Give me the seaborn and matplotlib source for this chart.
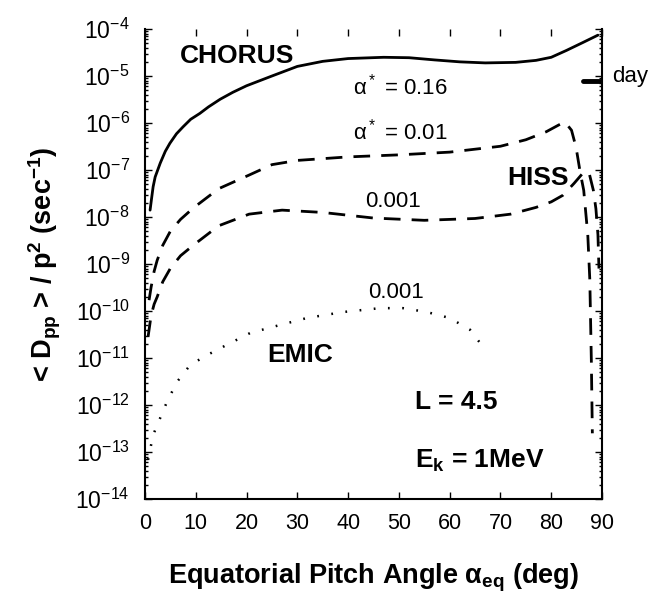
import numpy as np
import pandas as pd
import matplotlib
matplotlib.use("Agg")
import matplotlib.pyplot as plt
import seaborn as sns
from matplotlib.ticker import LogLocator, FixedLocator, NullFormatter

# ---------------- data ----------------
chorus_x = [1.0, 1.3, 1.6, 2.0, 3.0, 4.0, 4.9, 6.2, 7.5, 9.0, 10.8, 12.5, 14.8, 17.3, 20, 25,
            30, 35, 40, 47, 52, 57, 62, 67, 73, 77, 80, 83, 86.3, 89.2]
chorus_y = [1.4e-8, 2.5e-8, 4.4e-8, 7.1e-8, 1.4e-7, 2.5e-7, 3.7e-7, 5.9e-7, 8.3e-7, 1.2e-6,
            1.6e-6, 2.2e-6, 3.2e-6, 4.5e-6, 6.2e-6, 1.0e-5, 1.6e-5, 2.05e-5, 2.35e-5, 2.5e-5,
            2.45e-5, 2.2e-5, 2.0e-5, 1.9e-5, 1.95e-5, 2.15e-5, 2.5e-5, 3.5e-5, 5.2e-5, 7.4e-5]

hiss1_x = [0.8, 1.2, 1.8, 2.4, 3.5, 5, 7, 9.5, 14.5, 20.5, 25, 30, 40, 50, 60, 70, 75, 79,
           81.5, 82.7, 84.0, 84.9, 85.7, 86.4, 87.2, 87.6, 87.9, 88.1]
hiss1_y = [1.7e-10, 3.2e-10, 7e-10, 1.2e-9, 2.5e-9, 5e-9, 8.9e-9, 1.55e-8, 4e-8, 7.8e-8,
           1.3e-7, 1.6e-7, 1.9e-7, 2.1e-7, 2.4e-7, 3.2e-7, 4.4e-7, 6.5e-7, 9.1e-7, 1.05e-6,
           7e-7, 3e-7, 9e-8, 3.7e-8, 4.2e-9, 4.6e-10, 9e-12, 2.5e-13]

hiss2_x = [0.6, 1.2, 1.8, 2.4, 3.5, 5, 7, 9.5, 14.5, 20.5, 27, 35, 45, 55, 65, 72, 77, 80,
           82.3, 84.5, 86.2, 87.4, 88.3, 88.8, 89.2, 89.4]
hiss2_y = [2.8e-11, 8e-11, 1.4e-10, 2e-10, 4.2e-10, 8.1e-10, 1.5e-9, 2.5e-9, 6.5e-9, 1.15e-8,
           1.4e-8, 1.25e-8, 9.5e-9, 8.5e-9, 9.3e-9, 1.15e-8, 1.6e-8, 2.1e-8, 2.9e-8, 5.2e-8,
           8.5e-8, 9.2e-8, 3.7e-8, 1.5e-8, 4.2e-9, 8e-10]

emic_x = [0.6, 1.6, 2.6, 4.3, 6.3, 8.9, 12.2, 16.1, 20.7, 25.2, 31.9, 39, 46.3, 50.8, 55.5,
          60, 64, 67]
emic_y = [6.8e-14, 2.3e-13, 4.2e-13, 1.15e-12, 3.1e-12, 7.1e-12, 1.15e-11, 1.9e-11, 3.4e-11,
          4.6e-11, 7.1e-11, 9.5e-11, 1.15e-10, 1.15e-10, 9.5e-11, 7.1e-11, 4e-11, 1.5e-11]

day_x = [86.3, 89.6]
day_y = [7.8e-6, 7.8e-6]

x_ticks = [0, 10, 20, 30, 40, 50, 60, 70, 80, 90]

# ---------------- style ----------------
sns.set_style("ticks")
plt.rcParams["font.family"] = ["Liberation Sans", "DejaVu Sans"]
plt.rcParams["mathtext.fontset"] = "custom"
plt.rcParams["mathtext.rm"] = "Liberation Sans"
plt.rcParams["mathtext.it"] = "Liberation Sans:italic"
plt.rcParams["mathtext.bf"] = "Liberation Sans:bold"
for k in ["text.color", "axes.labelcolor", "xtick.color", "ytick.color", "axes.edgecolor"]:
    plt.rcParams[k] = "black"

fig = plt.figure(figsize=(6.67, 5.94), dpi=100)
ax = fig.add_axes([145 / 667, 95 / 594, 457 / 667, 470 / 594])

def df(x, y):
    return pd.DataFrame({"x": x, "y": y})

sns.lineplot(data=df(chorus_x, chorus_y), x="x", y="y", ax=ax, color="black",
             lw=2.0, sort=False, estimator=None)
sns.lineplot(data=df(hiss1_x, hiss1_y), x="x", y="y", ax=ax, color="black",
             lw=2.0, sort=False, estimator=None, linestyle=(0, (6, 4)))
sns.lineplot(data=df(hiss2_x, hiss2_y), x="x", y="y", ax=ax, color="black",
             lw=2.0, sort=False, estimator=None, linestyle=(0, (6, 4)))
sns.lineplot(data=df(emic_x, emic_y), x="x", y="y", ax=ax, color="black",
             lw=1.8, sort=False, estimator=None, linestyle=(0, (0.7, 5.0)))
sns.lineplot(data=df(day_x, day_y), x="x", y="y", ax=ax, color="black",
             lw=3.5, sort=False, estimator=None, clip_on=False)

ax.set_yscale("log")
ax.set_xlim(0, 90)
ax.set_ylim(1e-14, 1e-4)

ax.xaxis.set_major_locator(FixedLocator(x_ticks))
ax.yaxis.set_major_locator(LogLocator(base=10, numticks=20))
ax.yaxis.set_minor_locator(LogLocator(base=10, subs=np.arange(2, 10), numticks=20))
ax.yaxis.set_minor_formatter(NullFormatter())

ax.spines["top"].set_visible(False)
ax.spines["right"].set_visible(True)
for s in ["left", "bottom", "right"]:
    ax.spines[s].set_linewidth(1.5)

ax.tick_params(axis="both", which="both", direction="in", top=True, right=True, width=1.0)
ax.tick_params(axis="x", which="major", labelsize=15.5, length=5, pad=10)
ax.tick_params(axis="y", which="major", labelsize=16.5, length=5, pad=11)
ax.tick_params(axis="y", which="minor", length=2.5)

ax.set_xlabel("Equatorial Pitch Angle α$_\\mathbf{eq}$ (deg)", fontsize=19.5,
              fontweight="bold", labelpad=20)
ax.set_ylabel(r"< D$_\mathbf{pp}$ > / p$^\mathbf{2}$ (sec$^\mathbf{-1}$)", fontsize=19.5,
              fontweight="bold", labelpad=9)

# annotations
ax.text(6.9, 10**-4.72, "CHORUS", fontsize=19, fontweight="bold", ha="left", va="baseline")
ax.text(50.2, 10**-5.40, "α$^*$ = 0.16", fontsize=16, ha="center", va="baseline")
ax.text(50.2, 10**-6.36, "α$^*$ = 0.01", fontsize=16, ha="center", va="baseline")
ax.text(77.4, 10**-7.32, "HISS", fontsize=19, fontweight="bold", ha="center", va="baseline")
ax.text(48.8, 10**-7.79, "0.001", fontsize=16, ha="center", va="baseline")
ax.text(49.4, 10**-9.72, "0.001", fontsize=16, ha="center", va="baseline")
ax.text(30.5, 10**-11.09, "EMIC", fontsize=19, fontweight="bold", ha="center", va="baseline")
ax.text(53.2, 10**-12.09, "L = 4.5", fontsize=19, fontweight="bold", ha="left", va="baseline")
ax.text(53.2, 10**-13.34, r"E$_\mathbf{k}$ = 1MeV", fontsize=19, fontweight="bold",
        ha="left", va="baseline")
ax.text(92.0, 10**-5.12, "day", fontsize=16, ha="left", va="baseline", clip_on=False)

fig.savefig("out.png", dpi=100)
